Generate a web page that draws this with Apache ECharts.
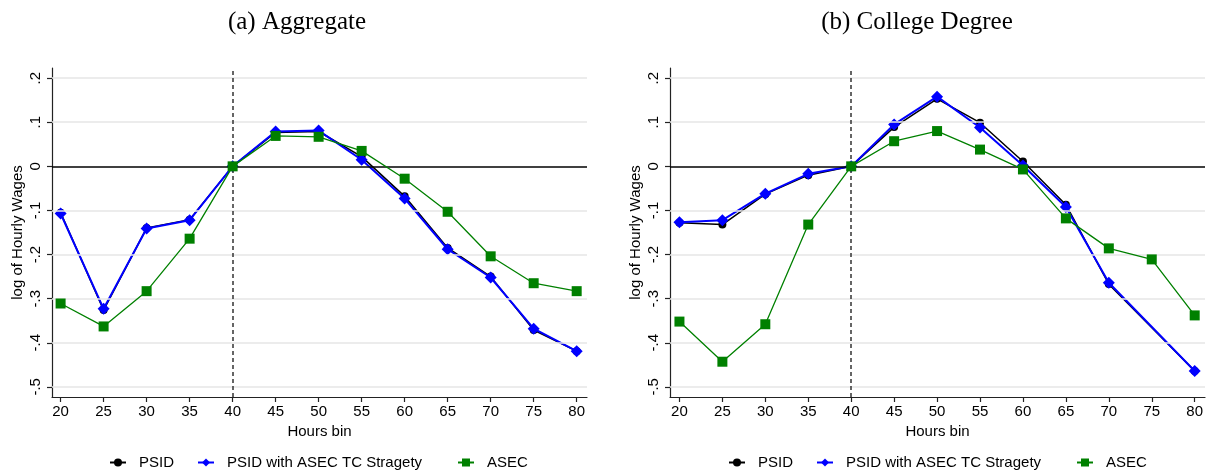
<!DOCTYPE html>
<html>
<head>
<meta charset="utf-8">
<script src="https://cdn.jsdelivr.net/npm/echarts@6/dist/echarts.min.js"></script>
<style>
html,body{margin:0;padding:0;background:#fff;}
#chart{width:1209px;height:475px;}
</style>
</head>
<body>
<div id="chart"></div>
<script>
// ---- data ----
const hoursBins = [20, 25, 30, 35, 40, 45, 50, 55, 60, 65, 70, 75, 80];
const yTicks = [-0.5, -0.4, -0.3, -0.2, -0.1, 0, 0.1, 0.2];
const panelTitles = ['(a) Aggregate', '(b) College Degree'];
const seriesNames = ['PSID', 'PSID with ASEC TC Stragety', 'ASEC'];

// (a) Aggregate
const aggPSID = [-0.105, -0.326, -0.140, -0.121, 0, 0.077, 0.079, 0.022, -0.068, -0.185, -0.250, -0.371, -0.419];
const aggPSIDTC = [-0.107, -0.323, -0.141, -0.122, 0, 0.079, 0.081, 0.015, -0.073, -0.188, -0.252, -0.368, -0.419];
const aggASEC = [-0.311, -0.363, -0.283, -0.164, 0, 0.069, 0.067, 0.035, -0.028, -0.103, -0.204, -0.265, -0.283];

// (b) College Degree (PSID has no 75 bin)
const colPSID = [-0.128, -0.132, -0.063, -0.020, 0, 0.089, 0.153, 0.099, 0.011, -0.087, -0.267, null, -0.464];
const colPSIDTC = [-0.127, -0.122, -0.062, -0.017, 0, 0.095, 0.158, 0.088, 0.002, -0.092, -0.264, null, -0.464];
const colASEC = [-0.352, -0.443, -0.358, -0.132, 0, 0.057, 0.080, 0.038, -0.007, -0.118, -0.186, -0.211, -0.338];

const panels = [
  {title: panelTitles[0], data: [aggPSID, aggPSIDTC, aggASEC]},
  {title: panelTitles[1], data: [colPSID, colPSIDTC, colASEC]}
];

// ---- layout / styles ----
const FONT = '"Liberation Sans", Arial, sans-serif';
const layout = [
  {left: 52, xmin: 19.0, titleX: 297, legendX: [109, 197, 457]},
  {left: 670, xmin: 18.9, titleX: 917, legendX: [728, 816, 1076]}
];
const gridTop = 68, gridH = 329, gridW = 535;
const styles = [
  {color: '#000000', symbol: 'circle', size: 8, width: 1.5},
  {color: '#0000ff', symbol: 'diamond', size: 12, width: 2},
  {color: '#008000', symbol: 'rect', size: 10, width: 1.3}
];

function fmtY(v) {
  const r = Math.round(v * 10) / 10;
  if (r === 0) return '0';
  return r.toString().replace('0.', '.');
}

const grids = [], xAxes = [], yAxes = [], series = [], legends = [], graphics = [];

panels.forEach((p, i) => {
  const L = layout[i];
  grids.push({left: L.left, top: gridTop, width: gridW, height: gridH, containLabel: false});
  xAxes.push({
    type: 'value', gridIndex: i, min: L.xmin, max: 81.2,
    name: 'Hours bin', nameLocation: 'middle', nameGap: 26,
    nameTextStyle: {fontFamily: FONT, fontSize: 15, color: '#000'},
    axisLine: {show: true, onZero: false, lineStyle: {color: '#222', width: 1.2}},
    axisTick: {show: true, length: 5, customValues: hoursBins, lineStyle: {color: '#222', width: 1.2}},
    axisLabel: {customValues: hoursBins, fontFamily: FONT, fontSize: 15, color: '#000', margin: 7},
    splitLine: {show: false}
  });
  yAxes.push({
    type: 'value', gridIndex: i, min: -0.523, max: 0.223,
    name: 'log of Hourly Wages', nameLocation: 'middle', nameGap: 27,
    nameTextStyle: {fontFamily: FONT, fontSize: 15, color: '#000'},
    axisLine: {show: true, onZero: false, lineStyle: {color: '#222', width: 1.2}},
    axisTick: {show: true, length: 5, customValues: yTicks, lineStyle: {color: '#222', width: 1.2}},
    axisLabel: {customValues: yTicks, rotate: 90, formatter: fmtY, fontFamily: FONT, fontSize: 15, color: '#000', margin: 9},
    splitLine: {show: false}
  });
  // helper series for gridlines and reference lines
  series.push({
    type: 'line', xAxisIndex: i, yAxisIndex: i, data: [], silent: true,
    markLine: {
      silent: true, symbol: 'none', label: {show: false}, animation: false,
      data: yTicks.filter(v => v !== 0).map(v => ({yAxis: v, lineStyle: {color: '#e6e6e6', width: 1.5, type: 'solid'}}))
        .concat([
          {yAxis: 0, lineStyle: {color: '#000', width: 1.5, type: 'solid'}},
          {xAxis: 40, lineStyle: {color: '#333', width: 1.5, type: [4, 3]}}
        ])
    }
  });
  p.data.forEach((vals, k) => {
    const s = styles[k];
    series.push({
      name: seriesNames[k], type: 'line', xAxisIndex: i, yAxisIndex: i,
      data: hoursBins.map((h, j) => [h, vals[j]]),
      connectNulls: true,
      symbol: s.symbol, symbolSize: s.size, showSymbol: true,
      itemStyle: {color: s.color},
      lineStyle: {color: s.color, width: s.width},
      animation: false, z: 3 + k
    });
  });
  seriesNames.forEach((n, k) => {
    legends.push({
      data: [n], left: L.legendX[k], top: 455, padding: 0,
      itemWidth: 16, itemHeight: 10, selectedMode: false,
      textStyle: {fontFamily: FONT, fontSize: 15, color: '#000', padding: [0, 0, 0, 8]}
    });
  });
  graphics.push({
    type: 'text', x: L.titleX, y: 22,
    style: {text: p.title, fill: '#000', font: '25px "Liberation Serif", "Times New Roman", serif', textAlign: 'center', textVerticalAlign: 'middle'}
  });
});

const chart = echarts.init(document.getElementById('chart'), null, {renderer: 'canvas'});
chart.setOption({
  backgroundColor: '#fff',
  animation: false,
  grid: grids, xAxis: xAxes, yAxis: yAxes,
  series: series, legend: legends, graphic: graphics
});
</script>
</body>
</html>
